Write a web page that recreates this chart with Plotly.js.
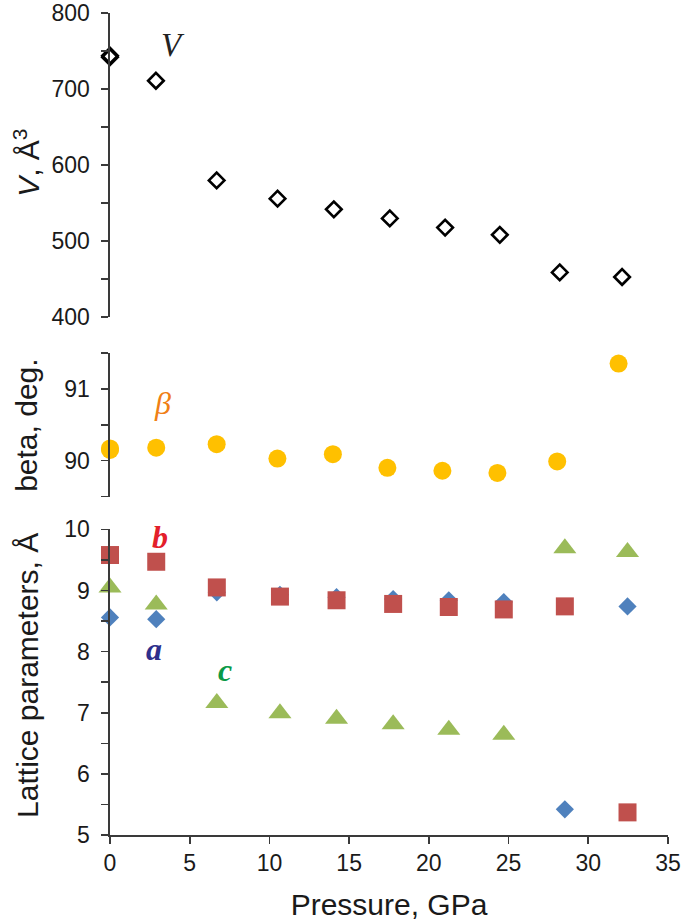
<!DOCTYPE html>
<html>
<head>
<meta charset="utf-8">
<script src="https://cdn.plot.ly/plotly-3.0.1.min.js"></script>
<style>html,body{margin:0;padding:0;background:#fff;}#chart{width:685px;height:921px;}</style>
</head>
<body>
<div id="chart"></div>
<script>
// Volume panel
const pressureV = [0, 0, 2.88, 6.69, 10.51, 14.04, 17.55, 21.02, 24.45, 28.21, 32.12];
const volume    = [744, 742, 711, 580, 556, 542, 530, 518, 508.5, 459, 453];

// Beta panel
const pressureBeta = [0, 0, 2.9, 6.69, 10.5, 13.98, 17.4, 20.85, 24.3, 28.05, 31.9];
const beta         = [90.17, 90.15, 90.18, 90.23, 90.03, 90.09, 89.90, 89.86, 89.83, 89.99, 91.35];

// Lattice parameters panel
const pressureLat = [0, 2.9, 6.7, 10.66, 14.21, 17.76, 21.25, 24.7, 28.53, 32.46];
const latA = [8.56, 8.53, 8.97, 8.93, 8.89, 8.86, 8.84, 8.81, 5.42, 8.74];
const latB = [9.58, 9.47, 9.05, 8.90, 8.84, 8.78, 8.73, 8.69, 8.74, 5.37];
const latC = [9.05, 8.77, 7.16, 6.99, 6.90, 6.81, 6.72, 6.64, 9.69, 9.63];

const xTicks = [0, 5, 10, 15, 20, 25, 30, 35];
const vTicks = [400, 500, 600, 700, 800];
const betaTicks = [90, 91];
const latTicks = [5, 6, 7, 8, 9, 10];

const axisColor = '#3a3a3a';
const tickFont = {family: 'Liberation Sans, Arial, sans-serif', size: 23, color: '#1a1a1a'};
const titleFont = {family: 'Liberation Sans, Arial, sans-serif', size: 30, color: '#1a1a1a'};
const serif = 'Liberation Serif, Times New Roman, serif';

const traces = [
  {x: pressureV, y: volume, xaxis: 'x', yaxis: 'y3', mode: 'markers', cliponaxis: false,
   marker: {symbol: 'diamond-open', size: 12, color: '#000', line: {width: 2.6, color: '#000'}}},
  {x: pressureBeta, y: beta, xaxis: 'x', yaxis: 'y2', mode: 'markers', cliponaxis: false,
   marker: {symbol: 'circle', size: 18, color: '#FFC000', line: {width: 0}}},
  {x: pressureLat, y: latA, xaxis: 'x', yaxis: 'y', mode: 'markers', cliponaxis: false,
   marker: {symbol: 'diamond', size: 14, color: '#4F81BD', line: {width: 0}}},
  {x: pressureLat, y: latB, xaxis: 'x', yaxis: 'y', mode: 'markers', cliponaxis: false,
   marker: {symbol: 'square', size: 18, color: '#C0504D', line: {width: 0}}},
  {x: pressureLat, y: latC, xaxis: 'x', yaxis: 'y', mode: 'markers', cliponaxis: false,
   marker: {symbol: 'triangle-up', size: 20, color: '#9BBB59', line: {width: 0}}}
];

const minorTicks = (d) => ({dtick: d, tick0: 0, ticks: 'outside', ticklen: 7, tickwidth: 1.6, tickcolor: axisColor, showgrid: false});

const yCommon = {
  showline: true, linecolor: axisColor, linewidth: 1.6,
  ticks: 'outside', ticklen: 7, tickwidth: 1.6, tickcolor: axisColor,
  showgrid: false, zeroline: false, tickfont: tickFont, anchor: 'x', fixedrange: true,
  tickmode: 'array', ticklabelstandoff: 7, ticklabeloverflow: 'allow'
};

const layout = {
  width: 685, height: 921,
  margin: {l: 110, r: 17, t: 13, b: 86},
  paper_bgcolor: '#fff', plot_bgcolor: 'rgba(0,0,0,0)',
  showlegend: false,
  xaxis: {
    range: [0, 35], tickmode: 'array', tickvals: xTicks, ticktext: xTicks.map(String),
    showline: true, linecolor: axisColor, linewidth: 1.6, ticklabeloverflow: 'allow',
    ticks: 'outside', ticklen: 7, tickwidth: 1.6, tickcolor: axisColor,
    showgrid: false, zeroline: false, tickfont: tickFont, anchor: 'y',
    title: {text: 'Pressure, GPa', font: titleFont, standoff: 20}
  },
  yaxis: Object.assign({}, yCommon, {
    domain: [0, 0.3719], range: [5, 10.001], tickvals: latTicks, ticktext: latTicks.map(String),
    minor: minorTicks(0.5)
  }),
  yaxis2: Object.assign({}, yCommon, {
    domain: [0.4116, 0.5867], range: [89.4999, 91.5001], tickvals: betaTicks, ticktext: betaTicks.map(String),
    minor: minorTicks(0.5)
  }),
  yaxis3: Object.assign({}, yCommon, {
    domain: [0.6298, 1], range: [400, 800.05], tickvals: vTicks, ticktext: vTicks.map(String),
    minor: minorTicks(50)
  }),
  annotations: [
    // y-axis titles
    {x: -0.149, y: 0.8175, xref: 'paper', yref: 'paper', text: '<i>V</i>, Å<sup>3</sup>', textangle: -90,
     showarrow: false, xanchor: 'center', yanchor: 'middle', font: titleFont},
    {x: -0.149, y: 0.4988, xref: 'paper', yref: 'paper', text: 'beta, deg.', textangle: -90,
     showarrow: false, xanchor: 'center', yanchor: 'middle', font: titleFont},
    {x: -0.149, y: 0.1946, xref: 'paper', yref: 'paper', text: 'Lattice parameters, Å', textangle: -90,
     showarrow: false, xanchor: 'center', yanchor: 'middle', font: titleFont},
    // series labels
    {x: 3.95, y: 758, xref: 'x', yref: 'y3', text: '<i>V</i>', showarrow: false,
     font: {family: serif, size: 33, color: '#222'}},
    {x: 3.32, y: 90.8, xref: 'x', yref: 'y2', text: '<i>β</i>', showarrow: false,
     font: {family: serif, size: 32, color: '#F07F15'}},
    {x: 3.13, y: 9.87, xref: 'x', yref: 'y', text: '<b><i>b</i></b>', showarrow: false,
     font: {family: serif, size: 32, color: '#E3202A'}},
    {x: 2.79, y: 8.05, xref: 'x', yref: 'y', text: '<b><i>a</i></b>', showarrow: false,
     font: {family: serif, size: 32, color: '#2E2F8C'}},
    {x: 7.21, y: 7.7, xref: 'x', yref: 'y', text: '<b><i>c</i></b>', showarrow: false,
     font: {family: serif, size: 32, color: '#0A9A48'}}
  ]
};

Plotly.newPlot('chart', traces, layout, {displayModeBar: false, staticPlot: true});
</script>
</body>
</html>
